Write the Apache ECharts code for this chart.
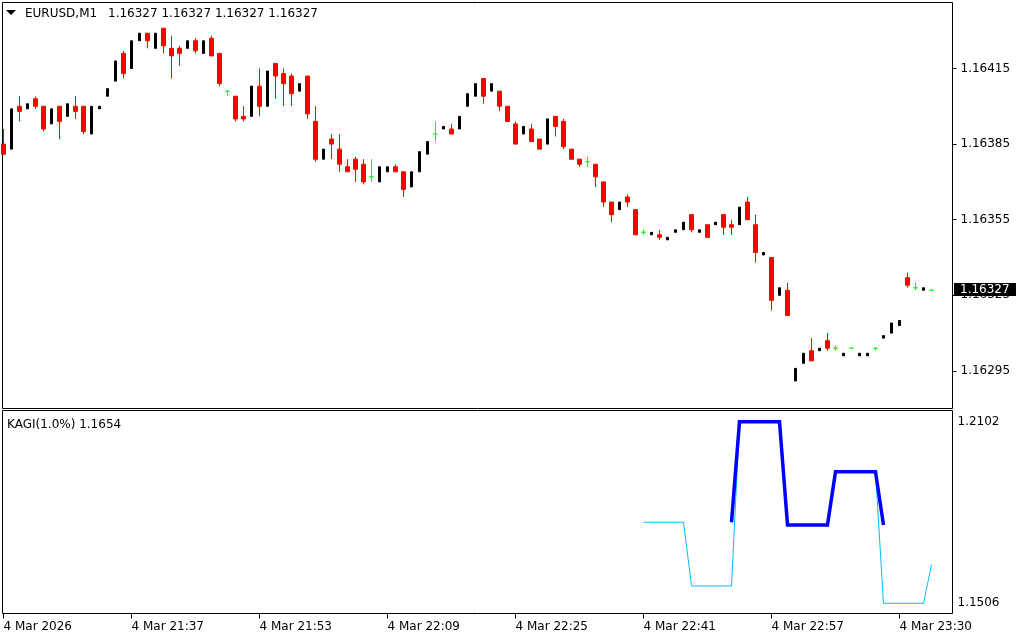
<!DOCTYPE html>
<html>
<head>
<meta charset="utf-8">
<script src="https://cdn.jsdelivr.net/npm/echarts@6/dist/echarts.min.js"></script>
<style>
html,body{margin:0;padding:0;background:#fff;}
#chart{width:1024px;height:640px;}
</style>
</head>
<body>
<div id="chart"></div>
<script>
// ---- DATA ----
const symbolName = 'EURUSD,M1';
const indicatorName = 'KAGI(1.0%) 1.1654';
const opens  = [1.16385,1.16383,1.16400,1.16399,1.16403,1.16400,1.16393,1.16400,1.16396,1.16400,
                1.16400,1.16389,1.16399,1.16404,1.16410,1.16421,1.16415,1.16426,1.16429,1.16423,
                1.16431,1.16423,1.16423,1.16423,1.16426,1.16421,1.16427,1.16421,1.16406,1.16404,
                1.16396,1.16396,1.16408,1.16400,1.16417,1.16413,1.16412,1.16406,1.16412,1.16394,
                1.16379,1.16387,1.16383,1.16376,1.16379,1.16377,1.16372,1.16370,1.16374,1.16376,
                1.16374,1.16368,1.16374,1.16381,1.16389,1.16391,1.16391,1.16391,1.16400,1.16404,
                1.16411,1.16406,1.16406,1.16400,1.16393,1.16389,1.16391,1.16387,1.16385,1.16396,
                1.16394,1.16383,1.16379,1.16378,1.16377,1.16370,1.16362,1.16359,1.16364,1.16359,
                1.16350,1.16349,1.16349,1.16347,1.16350,1.16351,1.16357,1.16350,1.16353,1.16353,
                1.16357,1.16353,1.16353,1.16362,1.16353,1.16341,1.16340,1.16325,1.16327,1.16291,
                1.16298,1.16303,1.16303,1.16307,1.16304,1.16301,1.16304,1.16301,1.16301,1.16304,
                1.16308,1.16310,1.16313,1.16332,1.16328,1.16327,1.16327];
const highs  = [1.16391,1.16399,1.16404,1.16401,1.16404,1.16400,1.16399,1.16400,1.16401,1.16404,
                1.16400,1.16400,1.16400,1.16407,1.16418,1.16422,1.16426,1.16429,1.16429,1.16429,
                1.16431,1.16428,1.16424,1.16426,1.16427,1.16426,1.16428,1.16421,1.16406,1.16404,
                1.16400,1.16408,1.16415,1.16414,1.16417,1.16415,1.16413,1.16409,1.16412,1.16400,
                1.16383,1.16389,1.16389,1.16379,1.16380,1.16379,1.16379,1.16376,1.16376,1.16377,
                1.16374,1.16374,1.16382,1.16386,1.16394,1.16392,1.16393,1.16396,1.16405,1.16409,
                1.16411,1.16409,1.16406,1.16400,1.16394,1.16392,1.16393,1.16387,1.16395,1.16396,
                1.16395,1.16383,1.16379,1.16380,1.16377,1.16370,1.16362,1.16362,1.16365,1.16359,
                1.16351,1.16350,1.16351,1.16348,1.16351,1.16354,1.16357,1.16351,1.16353,1.16354,
                1.16357,1.16355,1.16360,1.16364,1.16357,1.16342,1.16340,1.16328,1.16330,1.16296,
                1.16302,1.16308,1.16304,1.16310,1.16305,1.16302,1.16304,1.16302,1.16302,1.16304,
                1.16309,1.16314,1.16315,1.16334,1.16330,1.16328,1.16327];
const lows   = [1.16381,1.16383,1.16394,1.16399,1.16399,1.16390,1.16393,1.16387,1.16396,1.16395,
                1.16389,1.16389,1.16399,1.16404,1.16410,1.16411,1.16415,1.16426,1.16423,1.16423,
                1.16421,1.16411,1.16416,1.16423,1.16421,1.16421,1.16420,1.16408,1.16404,1.16394,
                1.16394,1.16396,1.16396,1.16400,1.16403,1.16400,1.16400,1.16406,1.16395,1.16378,
                1.16379,1.16379,1.16374,1.16374,1.16370,1.16369,1.16370,1.16370,1.16374,1.16374,
                1.16364,1.16368,1.16374,1.16381,1.16386,1.16391,1.16389,1.16391,1.16400,1.16404,
                1.16401,1.16406,1.16398,1.16394,1.16385,1.16389,1.16386,1.16383,1.16385,1.16388,
                1.16383,1.16379,1.16376,1.16376,1.16368,1.16360,1.16354,1.16359,1.16360,1.16349,
                1.16349,1.16349,1.16347,1.16347,1.16350,1.16351,1.16350,1.16350,1.16348,1.16353,
                1.16349,1.16349,1.16353,1.16355,1.16338,1.16341,1.16319,1.16325,1.16317,1.16291,
                1.16298,1.16299,1.16303,1.16303,1.16303,1.16301,1.16304,1.16301,1.16301,1.16303,
                1.16308,1.16310,1.16313,1.16328,1.16327,1.16327,1.16327];
const closes = [1.16381,1.16399,1.16398,1.16401,1.16400,1.16391,1.16399,1.16394,1.16401,1.16398,
                1.16390,1.16400,1.16400,1.16407,1.16418,1.16413,1.16426,1.16429,1.16426,1.16429,
                1.16424,1.16420,1.16421,1.16426,1.16422,1.16426,1.16420,1.16409,1.16406,1.16395,
                1.16395,1.16408,1.16400,1.16414,1.16412,1.16409,1.16405,1.16409,1.16397,1.16379,
                1.16383,1.16385,1.16377,1.16374,1.16375,1.16370,1.16372,1.16376,1.16376,1.16374,
                1.16367,1.16374,1.16382,1.16386,1.16389,1.16392,1.16389,1.16396,1.16405,1.16409,
                1.16404,1.16409,1.16400,1.16394,1.16385,1.16392,1.16386,1.16383,1.16395,1.16392,
                1.16384,1.16379,1.16377,1.16378,1.16372,1.16362,1.16357,1.16362,1.16362,1.16349,
                1.16350,1.16350,1.16348,1.16348,1.16351,1.16354,1.16351,1.16351,1.16348,1.16354,
                1.16352,1.16352,1.16360,1.16355,1.16342,1.16342,1.16323,1.16328,1.16317,1.16296,
                1.16302,1.16299,1.16304,1.16304,1.16304,1.16302,1.16304,1.16302,1.16302,1.16304,
                1.16309,1.16314,1.16315,1.16329,1.16328,1.16328,1.16327];
// Kagi indicator buffers (first bar index for each)
const kagiThinStart = 80;
const kagiThin  = [1.1772,1.1772,1.1772,1.1772,1.1772,1.1772,
                   1.1563,1.1563,1.1563,1.1563,1.1563,1.1563,
                   1.2102,1.2102,1.2102,1.2102,1.2102,1.2102,
                   1.1763,1.1763,1.1763,1.1763,1.1763,1.1763,
                   1.1938,1.1938,1.1938,1.1938,1.1938,1.1938,
                   1.1506,1.1506,1.1506,1.1506,1.1506,1.1506,
                   1.1633];
const kagiThickStart = 91;
const kagiThick = [1.1772,
                   1.2102,1.2102,1.2102,1.2102,1.2102,1.2102,
                   1.1763,1.1763,1.1763,1.1763,1.1763,1.1763,
                   1.1938,1.1938,1.1938,1.1938,1.1938,1.1938,
                   1.1763];
const timeTickBars = [0,16,32,48,64,80,96,112];
const timeLabels = ['4 Mar 2026','4 Mar 21:37','4 Mar 21:53','4 Mar 22:09','4 Mar 22:25','4 Mar 22:41','4 Mar 22:57','4 Mar 23:30'];
const priceTicks = [1.16295,1.16325,1.16355,1.16385,1.16415];
const kagiTicks = [1.1506,1.2102];

// ---- BUILD ----
const bull = [], bear = [], doji = [];
for (let i = 0; i < opens.length; i++) {
  const item = [i, opens[i], closes[i], lows[i], highs[i]];
  if (closes[i] > opens[i]) bull.push(item);
  else if (closes[i] < opens[i]) bear.push(item);
  else doji.push(item);
}
const thinData = kagiThin.map((v, k) => [kagiThinStart + k, v]);
const thickData = kagiThick.map((v, k) => [kagiThickStart + k, v]);
const last = opens.length - 1;
const lastClose = closes[last];
const headerVals = [opens[last], highs[last], lows[last], closes[last]].map(v => v.toFixed(5)).join(' ');

const FONT = 'DejaVu Sans';
const X_MIN = -0.125, X_MAX = 118.625;

const chart = echarts.init(document.getElementById('chart'), null, {renderer: 'canvas'});
const candleBase = {
  type: 'candlestick', xAxisIndex: 0, yAxisIndex: 0,
  encode: {x: 0, y: [1, 2, 3, 4]},
  animation: false, silent: true
};
const baseGraphic = [
  {id: 'tri', type: 'polygon', shape: {points: [[6, 10], [16, 10], [11, 15]]}, style: {fill: '#000'}, silent: true, z: 100},
  {id: 'sym', type: 'text', x: 25, y: 14, style: {text: symbolName, fill: '#000', font: '12px "DejaVu Sans"', verticalAlign: 'middle'}, silent: true, z: 100},
  {id: 'hdr', type: 'text', x: 108, y: 14, style: {text: headerVals, fill: '#000', font: '12px "DejaVu Sans"', verticalAlign: 'middle'}, silent: true, z: 100},
  {id: 'ind', type: 'text', x: 7, y: 424.5, style: {text: indicatorName, fill: '#000', font: '12px "DejaVu Sans"', verticalAlign: 'middle'}, silent: true, z: 100}
];
chart.setOption({
  animation: false,
  backgroundColor: '#ffffff',
  textStyle: {fontFamily: FONT},
  grid: [
    {left: 2.5, top: 2.5, width: 950, height: 406, show: true, borderColor: '#000', borderWidth: 1, backgroundColor: '#fff'},
    {left: 2.5, top: 410.5, width: 950, height: 203, show: true, borderColor: '#000', borderWidth: 1, backgroundColor: '#fff'}
  ],
  xAxis: [
    {type: 'value', gridIndex: 0, min: X_MIN, max: X_MAX, show: false, axisLine: {onZero: false}, splitLine: {show: false}},
    {type: 'value', gridIndex: 1, min: X_MIN, max: X_MAX,
     axisLine: {show: false, onZero: false},
     splitLine: {show: false},
     axisTick: {show: true, inside: false, length: 5, customValues: timeTickBars, lineStyle: {color: '#000', width: 1}},
     axisLabel: {show: true, customValues: timeTickBars, align: 'left', margin: 7,
       fontFamily: FONT, fontSize: 12, color: '#000',
       formatter: v => timeLabels[timeTickBars.indexOf(Math.round(v))] || ''}}
  ],
  yAxis: [
    {type: 'value', gridIndex: 0, position: 'right', scale: true,
     min: 1.162800794, max: 1.164411905,
     axisLine: {show: false, onZero: false}, splitLine: {show: false},
     axisTick: {show: true, inside: false, length: 4, customValues: priceTicks, lineStyle: {color: '#000'}},
     axisLabel: {show: true, customValues: priceTicks, margin: 8, fontFamily: FONT, fontSize: 12, color: '#000',
       formatter: v => v.toFixed(5)}},
    {type: 'value', gridIndex: 1, position: 'right', scale: true,
     min: 1.1472524, max: 1.2138758,
     axisLine: {show: false, onZero: false}, splitLine: {show: false},
     axisTick: {show: false},
     axisLabel: {show: true, customValues: kagiTicks, margin: 5, fontFamily: FONT, fontSize: 12, color: '#000',
       formatter: v => v.toFixed(4)}}
  ],
  series: [
    Object.assign({}, candleBase, {
      name: 'bull', data: bull, barWidth: 2,
      itemStyle: {color: '#000', color0: '#000', borderColor: '#000', borderColor0: '#000', borderWidth: 1}
    }),
    Object.assign({}, candleBase, {
      name: 'bear', data: bear, barWidth: 4,
      itemStyle: {color: '#ff0000', color0: '#ff0000', borderColor: '#ff0000', borderColor0: '#ff0000', borderWidth: 1}
    }),
    Object.assign({}, candleBase, {
      name: 'doji', data: doji, barWidth: 4,
      itemStyle: {color: '#00ff00', color0: '#00ff00', borderColor: '#00ff00', borderColor0: '#00ff00', borderWidth: 1}
    }),
    {type: 'line', name: 'kagiThin', xAxisIndex: 1, yAxisIndex: 1, data: thinData,
     showSymbol: false, symbol: 'none', silent: true, animation: false,
     lineStyle: {color: '#00bfff', width: 1}},
    {type: 'line', name: 'kagiThick', xAxisIndex: 1, yAxisIndex: 1, data: thickData,
     showSymbol: false, symbol: 'none', silent: true, animation: false,
     lineStyle: {color: '#0000ff', width: 3.5, join: 'miter', cap: 'butt'}}
  ],
  graphic: baseGraphic
});

// current price box, positioned through the price axis scale
const py = chart.convertToPixel({yAxisIndex: 0}, lastClose);
chart.setOption({
  graphic: baseGraphic.concat([
    {id: 'pbox', type: 'rect', shape: {x: 954, y: Math.round(py) - 7, width: 62, height: 13}, style: {fill: '#000'}, silent: true, z: 110},
    {id: 'ptxt', type: 'text', x: 960, y: Math.round(py) - 0.5, style: {text: lastClose.toFixed(5), fill: '#fff', font: '12px "DejaVu Sans"', verticalAlign: 'middle'}, silent: true, z: 111}
  ])
});
</script>
</body>
</html>
